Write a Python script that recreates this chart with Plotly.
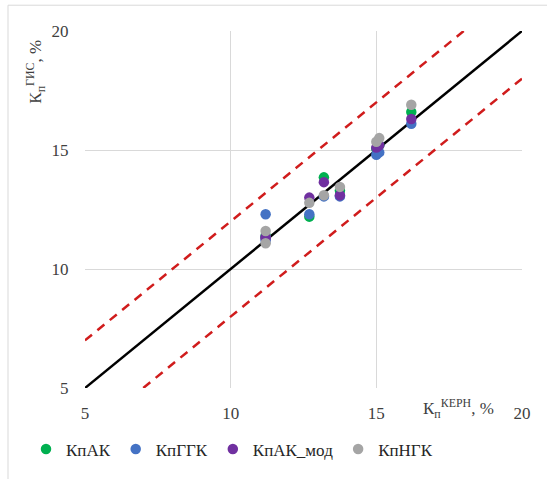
import plotly.graph_objects as go

# ---- data ----
kp_kern = [11.2, 11.2, 12.7, 13.2, 13.75, 15.0, 15.1, 16.2]
kp_ak = [11.4, 11.3, 12.2, 13.85, 13.3, 15.05, 15.2, 16.6]
kp_ggk = [12.3, 11.2, 12.3, 13.05, 13.05, 14.8, 14.9, 16.1]
kp_ak_mod = [11.35, 11.3, 13.0, 13.65, 13.1, 15.1, 15.2, 16.3]
kp_ngk = [11.6, 11.08, 12.78, 13.1, 13.45, 15.35, 15.5, 16.9]

series_names = ["КпАК", "КпГГК", "КпАК_мод", "КпНГК"]
series_values = [kp_ak, kp_ggk, kp_ak_mod, kp_ngk]
series_colors = ["#00b050", "#4472c4", "#7030a0", "#a5a5a5"]

axis_min, axis_max = 5, 20
tolerance = 2
tick_vals = [5, 10, 15, 20]

W, H = 547, 479
ML, MR, MT, MB = 85, 25, 31, 88
PW, PH = W - ML - MR, H - MT - MB

def px_x(p):
    return (p - ML) / PW

def px_y(p):
    return (H - MB - p) / PH

fig = go.Figure()

# 1:1 line
fig.add_trace(go.Scatter(x=[axis_min, axis_max], y=[axis_min, axis_max], mode="lines",
                         line=dict(color="black", width=2.5), showlegend=False, hoverinfo="skip"))
# tolerance lines
fig.add_trace(go.Scatter(x=[axis_min, axis_max - tolerance],
                         y=[axis_min + tolerance, axis_max], mode="lines",
                         line=dict(color="#d01c1c", width=2.5, dash="9px,7px"),
                         showlegend=False, hoverinfo="skip"))
fig.add_trace(go.Scatter(x=[axis_min + tolerance, axis_max],
                         y=[axis_min, axis_max - tolerance], mode="lines",
                         line=dict(color="#d01c1c", width=2.5, dash="9px,7px"),
                         showlegend=False, hoverinfo="skip"))

for name, vals, col in zip(series_names, series_values, series_colors):
    fig.add_trace(go.Scatter(x=kp_kern, y=vals, mode="markers", name=name,
                             marker=dict(color=col, size=10.5)))

font_family = "Times New Roman"
fig.update_layout(
    width=W, height=H,
    margin=dict(l=ML, r=MR, t=MT, b=MB),
    paper_bgcolor="white", plot_bgcolor="white",
    font=dict(family=font_family, size=17, color="#404040"),
    showlegend=True,
    legend=dict(orientation="h", x=px_x(26), xanchor="left", y=px_y(453), yanchor="middle",
                font=dict(family=font_family, size=17, color="#262626"),
                itemwidth=30, tracegroupgap=0, bgcolor="rgba(0,0,0,0)"),
    xaxis=dict(range=[axis_min, axis_max], tickvals=tick_vals, showgrid=True,
               gridcolor="#d9d9d9", gridwidth=1, zeroline=False, showline=False,
               ticks="outside", ticklen=10, tickcolor="rgba(0,0,0,0)",
               tickfont=dict(family=font_family, size=17, color="#404040")),
    yaxis=dict(range=[axis_min, axis_max], tickvals=tick_vals, showgrid=True,
               gridcolor="#d9d9d9", gridwidth=1, zeroline=False, showline=False,
               ticks="outside", ticklen=12, tickcolor="rgba(0,0,0,0)",
               tickfont=dict(family=font_family, size=17, color="#404040")),
    shapes=[
        dict(type="line", xref="paper", yref="paper", x0=px_x(8), x1=px_x(8),
             y0=px_y(5), y1=px_y(H + 5), line=dict(color="#d9d9d9", width=1)),
        dict(type="line", xref="paper", yref="paper", x0=px_x(8), x1=px_x(W + 5),
             y0=px_y(5), y1=px_y(5), line=dict(color="#d9d9d9", width=1)),
    ],
    annotations=[
        dict(text="К<sub>п</sub><sup>ГИС</sup>, %", xref="paper", yref="paper",
             x=px_x(36), y=px_y(72), textangle=-90, showarrow=False,
             xanchor="center", yanchor="middle",
             font=dict(family=font_family, size=17, color="#404040")),
        dict(text="К<sub>п</sub><sup>КЕРН</sup>, %", xref="paper", yref="paper",
             x=px_x(458), y=px_y(412), showarrow=False,
             xanchor="center", yanchor="middle",
             font=dict(family=font_family, size=17, color="#404040")),
    ],
)

fig.write_html("out.html")
